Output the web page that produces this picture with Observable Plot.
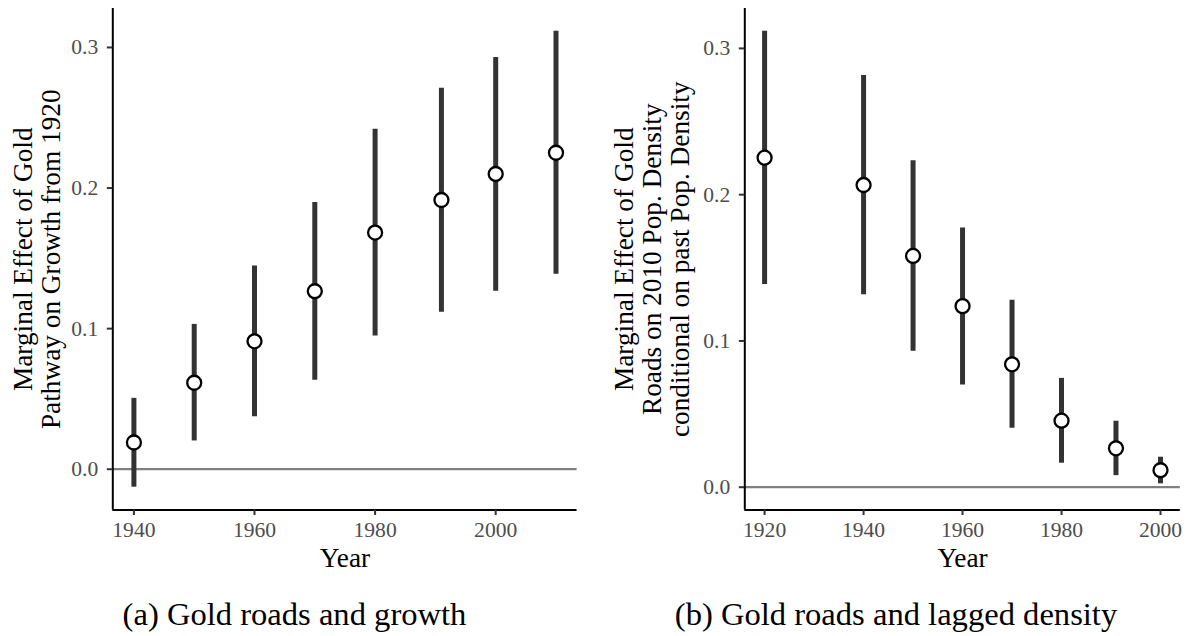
<!DOCTYPE html>
<html>
<head>
<meta charset="utf-8">
<script src="https://cdn.jsdelivr.net/npm/d3@7"></script>
<script src="https://cdn.jsdelivr.net/npm/@observablehq/plot@0.6"></script>
<style>
  html, body { margin: 0; padding: 0; background: #fff; }
  #wrap { position: relative; width: 1186px; height: 636px; overflow: hidden; background: #fff; }
  .panel { position: absolute; top: 0; overflow: visible; }
  .caption { position: absolute; font-family: "Liberation Serif", serif; font-size: 32.6px; line-height: 33px; color: #000; text-align: center; white-space: nowrap; }
</style>
</head>
<body>
<div id="wrap"></div>
<script>
// ---- Panel (a): Gold roads and growth ----
const leftYears = [1940, 1950, 1960, 1970, 1980, 1991, 2000, 2010];
const leftEst   = [0.019, 0.0615, 0.091, 0.1266, 0.1683, 0.1915, 0.210, 0.2251];
const leftLo    = [-0.0128, 0.0201, 0.0374, 0.0632, 0.0947, 0.1117, 0.1266, 0.1387];
const leftHi    = [0.0504, 0.103, 0.1446, 0.1898, 0.2419, 0.271, 0.2928, 0.3115];
const leftXTicks = [1940, 1960, 1980, 2000];
const leftYLabel = "Marginal Effect of Gold\nPathway on Growth from 1920";
const leftCaption = "(a) Gold roads and growth";

// ---- Panel (b): Gold roads and lagged density ----
const rightYears = [1920, 1940, 1950, 1960, 1970, 1980, 1991, 2000];
const rightEst   = [0.2253, 0.2066, 0.1581, 0.1238, 0.0840, 0.0455, 0.0266, 0.0116];
const rightLo    = [0.1386, 0.1315, 0.0930, 0.0698, 0.0403, 0.0164, 0.0079, 0.0023];
const rightHi    = [0.3117, 0.2814, 0.2232, 0.1772, 0.1279, 0.0744, 0.0451, 0.0205];
const rightXTicks = [1920, 1940, 1960, 1980, 2000];
const rightYLabel = "Marginal Effect of Gold\nRoads on 2010 Pop. Density\nconditional on past Pop. Density";
const rightCaption = "(b) Gold roads and lagged density";

const yTicks = [0, 0.1, 0.2, 0.3];
const xLabel = "Year";

function expand(lo, hi, f = 0.05) {
  const r = hi - lo;
  return [lo - r * f, hi + r * f];
}

function panel(years, est, lo, hi, xTicks, yLabel, opts) {
  const data = years.map((y, i) => ({year: y, est: est[i], lo: lo[i], hi: hi[i]}));
  const xDom = expand(d3.min(years), d3.max(years));
  const yDom = expand(Math.min(0, d3.min(lo)), Math.max(0, d3.max(hi)));
  const font = "Liberation Serif";
  const H = 590;
  return Plot.plot({
    width: opts.width,
    height: H,
    marginTop: 8,
    marginBottom: H - 509.5,
    marginLeft: opts.marginLeft,
    marginRight: opts.marginRight,
    style: {fontFamily: font, background: "white", overflow: "visible"},
    x: {domain: xDom, axis: null},
    y: {domain: yDom, axis: null},
    marks: [
      Plot.ruleY([0], {stroke: "#7f7f7f", strokeWidth: 2.2}),
      Plot.ruleX(data, {x: "year", y1: "lo", y2: "hi", stroke: "#333333", strokeWidth: 5}),
      Plot.dot(data, {x: "year", y: "est", r: 7, fill: "white", stroke: "black", strokeWidth: 2.3}),
      Plot.ruleX([xDom[0]], {stroke: "black", strokeWidth: 2}),
      Plot.ruleY([yDom[0]], {stroke: "black", strokeWidth: 2}),
      Plot.axisY({ticks: yTicks, tickFormat: d3.format(".1f"), tickSize: 5.5, tickPadding: 9,
                  fontSize: 21.6, stroke: "#333333", fill: "#4d4d4d", strokeWidth: 2, label: null}),
      Plot.axisX({ticks: xTicks, tickFormat: d3.format("d"), tickSize: 5.5, tickPadding: 6,
                  fontSize: 21.6, stroke: "#333333", fill: "#4d4d4d", strokeWidth: 2, label: null}),
      Plot.text([xLabel], {text: d => d, frameAnchor: "bottom", lineAnchor: "top", dy: 37.5,
                           fontSize: 27.3, fill: "black"}),
      Plot.text([yLabel], {text: d => d, frameAnchor: "left", rotate: -90, textAnchor: "middle",
                           lineAnchor: "middle", lineHeight: 1.03, fontSize: 27.3, dx: opts.labelDx, fill: "black"})
    ]
  });
}

const wrap = document.getElementById("wrap");

const left = panel(leftYears, leftEst, leftLo, leftHi, leftXTicks, leftYLabel,
  {width: 600, marginLeft: 112.3, marginRight: 23.4, labelDx: -76});
left.classList.add("panel");
left.style.left = "0px";
wrap.appendChild(left);

const right = panel(rightYears, rightEst, rightLo, rightHi, rightXTicks, rightYLabel,
  {width: 586, marginLeft: 144.3, marginRight: 6.2, labelDx: -92.7});
right.classList.add("panel");
right.style.left = "600px";
wrap.appendChild(right);

function caption(text, cx) {
  const d = document.createElement("div");
  d.className = "caption";
  d.textContent = text;
  d.style.left = (cx - 300) + "px";
  d.style.width = "600px";
  d.style.top = "597.5px";
  wrap.appendChild(d);
}
caption(leftCaption, 294.5);
caption(rightCaption, 896);
</script>
</body>
</html>
